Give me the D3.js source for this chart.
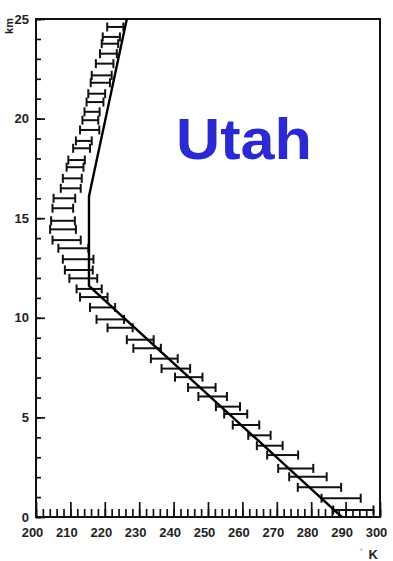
<!DOCTYPE html>
<html>
<head>
<meta charset="utf-8">
<script src="https://cdn.jsdelivr.net/npm/d3@7"></script>
<style>
  body { margin: 0; background: #fff; }
  svg { display: block; font-family: "Liberation Sans", Arial, sans-serif; }
</style>
</head>
<body>
<script>
// Measured profile: altitude (km) with temperature range (K)
const altitude = [0.35, 0.94, 1.49, 2.02, 2.44, 3.11, 3.58, 4.1, 4.62, 5.17,
  5.54, 6.05, 6.5, 7.02, 7.45, 7.95, 8.47, 8.9, 9.5, 9.92,
  10.52, 11.04, 11.45, 11.98, 12.4, 12.94, 13.49, 13.9, 14.44, 14.87,
  15.5, 16.0, 16.5, 17.0, 17.56, 17.92, 18.51, 18.88, 19.43, 19.92,
  20.34, 20.83, 21.25, 21.8, 22.17, 22.76, 23.26, 23.76, 24.1, 24.6]
const tempLow = [286.4, 283.0, 276.1, 273.6, 270.4, 267.2, 264.2, 261.7, 257.2, 254.7,
  252.3, 247.2, 244.2, 240.4, 236.5, 233.4, 228.3, 226.4, 220.8, 217.6,
  215.7, 212.8, 211.8, 209.7, 208.4, 207.8, 206.5, 204.8, 204.1, 204.4,
  204.8, 205.1, 207.2, 207.8, 208.9, 209.4, 210.8, 211.6, 212.8, 213.5,
  214.1, 214.7, 215.2, 215.9, 216.2, 217.4, 218.6, 219.1, 219.4, 220.7]
const tempHigh = [298.1, 294.4, 288.7, 284.5, 280.6, 276.2, 271.7, 268.2, 264.9, 261.4,
  259.3, 255.5, 252.2, 248.4, 244.8, 241.2, 236.3, 234.2, 228.1, 225.6,
  223.0, 220.8, 219.1, 217.8, 216.5, 216.7, 215.2, 213.0, 211.6, 211.3,
  210.8, 211.4, 213.0, 213.3, 213.8, 214.2, 215.7, 216.2, 218.4, 218.1,
  218.5, 219.6, 220.1, 221.5, 222.0, 222.5, 223.5, 223.9, 224.4, 225.4]

// Reference profile (solid line)
const profileAlt = [0, 11.6, 16.1, 25]
const profileTemp = [288.9, 215.4, 215.4, 226.4]

// Axis ticks
const xLabels = [200, 210, 220, 230, 240, 250, 260, 270, 280, 290, 300]
const yLabels = [0, 5, 10, 15, 20, 25]

const width = 393
const height = 561
const margin = { top: 19, right: 13, bottom: 44, left: 36 }

const svg = d3.select("body")
  .append("svg")
  .attr("width", width)
  .attr("height", height)

const x = d3.scaleLinear()
  .domain([200, 300])
  .range([margin.left, width - margin.right])

const y = d3.scaleLinear()
  .domain([0, 25])
  .range([height - margin.bottom, margin.top])

// minor ticks
svg.append("g")
  .attr("transform", `translate(0, ${y(0)})`)
  .call(d3.axisBottom(x).tickValues(d3.range(200, 301, 2)).tickSize(-8).tickFormat(""))
  .call(g => g.select(".domain").remove())
  .call(g => g.selectAll("line").attr("stroke", "#111").attr("stroke-width", 1.7))

svg.append("g")
  .attr("transform", `translate(${x(200)}, 0)`)
  .call(d3.axisLeft(y).tickValues(d3.range(0, 26, 1)).tickSize(-5).tickFormat(""))
  .call(g => g.select(".domain").remove())
  .call(g => g.selectAll("line").attr("stroke", "#111").attr("stroke-width", 1.7))

// major ticks + labels
const axisX = svg.append("g")
  .attr("transform", `translate(0, ${y(0)})`)
  .call(d3.axisBottom(x).tickValues(xLabels).tickSize(-15).tickPadding(11))
axisX.select(".domain").remove()
axisX.selectAll("line").attr("stroke", "#111").attr("stroke-width", 1.7)
axisX.selectAll("text")
  .attr("dx", -4)
  .style("font-size", "13px")
  .style("font-weight", "bold")
  .attr("fill", "#222")

const axisY = svg.append("g")
  .attr("transform", `translate(${x(200)}, 0)`)
  .call(d3.axisLeft(y).tickValues(yLabels).tickSize(-9).tickPadding(7))
axisY.select(".domain").remove()
axisY.selectAll("line").attr("stroke", "#111").attr("stroke-width", 1.7)
axisY.selectAll("text")
  .style("font-size", "13px")
  .style("font-weight", "bold")
  .attr("fill", "#222")

// frame
svg.append("rect")
  .attr("x", x(200))
  .attr("y", y(25))
  .attr("width", x(300) - x(200))
  .attr("height", y(0) - y(25))
  .attr("fill", "none")
  .attr("stroke", "#111")
  .attr("stroke-width", 2)

// error bars
const bars = svg.append("g")
  .attr("stroke", "#111")
  .attr("stroke-width", 2)

altitude.forEach((a, i) => {
  const yy = y(a)
  bars.append("line")
    .attr("x1", x(tempLow[i])).attr("x2", x(tempHigh[i]))
    .attr("y1", yy).attr("y2", yy)
  bars.append("line")
    .attr("x1", x(tempLow[i])).attr("x2", x(tempLow[i]))
    .attr("y1", yy - 4.5).attr("y2", yy + 4.5)
  bars.append("line")
    .attr("x1", x(tempHigh[i])).attr("x2", x(tempHigh[i]))
    .attr("y1", yy - 4.5).attr("y2", yy + 4.5)
})

// solid profile line
const line = d3.line()
  .x(d => x(d[0]))
  .y(d => y(d[1]))

svg.append("path")
  .datum(profileTemp.map((t, i) => [t, profileAlt[i]]))
  .attr("d", line)
  .attr("fill", "none")
  .attr("stroke", "#000")
  .attr("stroke-width", 2.4)

// axis titles
svg.append("text")
  .attr("transform", `translate(13, ${y(25) - 1}) rotate(-90)`)
  .attr("text-anchor", "end")
  .style("font-size", "11px")
  .style("font-weight", "bold")
  .attr("fill", "#222")
  .text("km")

svg.append("text")
  .attr("x", 363)
  .attr("y", 555)
  .attr("text-anchor", "end")
  .style("font-size", "9px")
  .attr("fill", "#999")
  .text("°")

svg.append("text")
  .attr("x", 378)
  .attr("y", 559)
  .attr("text-anchor", "end")
  .style("font-size", "13px")
  .style("font-weight", "bold")
  .attr("fill", "#222")
  .text("K")

// label
svg.append("text")
  .attr("x", 244)
  .attr("y", 159)
  .attr("text-anchor", "middle")
  .attr("textLength", 136)
  .attr("lengthAdjust", "spacingAndGlyphs")
  .style("font-size", "57px")
  .style("font-weight", "bold")
  .attr("fill", "#2a2ad0")
  .text("Utah")
</script>
</body>
</html>
